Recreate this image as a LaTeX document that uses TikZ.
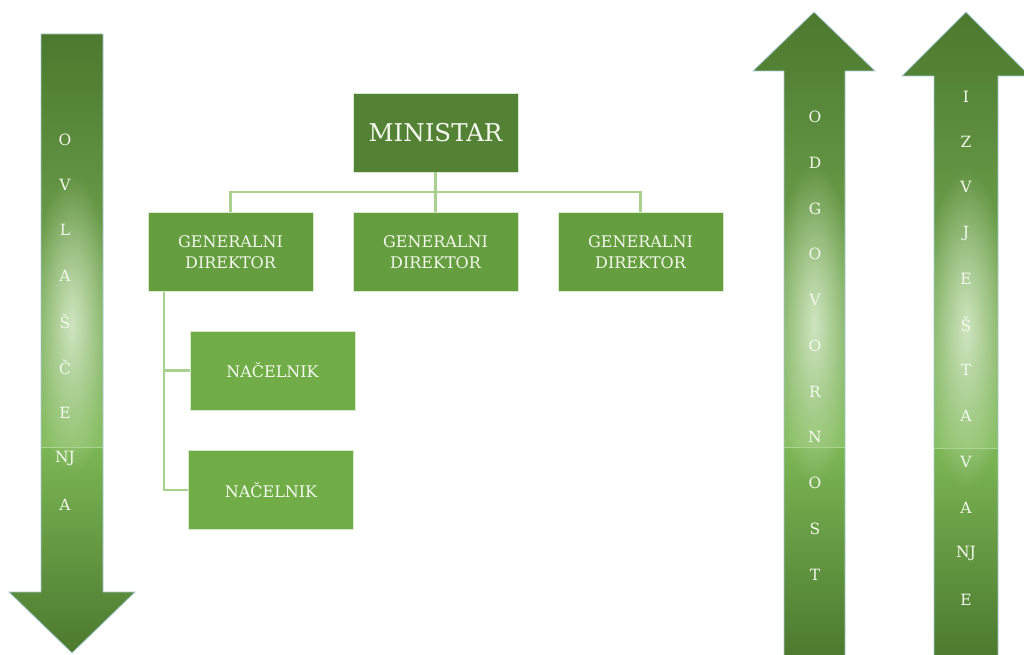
\documentclass[tikz,border=0pt]{standalone}
\usepackage{fontspec}
\setmainfont{DejaVu Serif}
\usetikzlibrary{fadings}
\definecolor{dk}{HTML}{4B792E}
\definecolor{md}{HTML}{64A13F}
\definecolor{lt}{HTML}{88C063}
\definecolor{lw}{HTML}{7BB654}
\definecolor{glowc}{HTML}{CFE5C0}
\definecolor{boxA}{HTML}{548235}
\definecolor{boxB}{HTML}{659E3E}
\definecolor{boxC}{HTML}{70AD47}
\definecolor{lnc}{HTML}{A9D08E}
\definecolor{edgec}{HTML}{A9C9D6}
\definecolor{txt}{HTML}{F5F8EF}
\tikzfading[name=glowfade, inner color=transparent!0, outer color=transparent!100]
\tikzset{
  orgbox/.style={draw=white!75!boxB, line width=0.6pt, minimum width=165pt, minimum height=79pt, inner sep=0pt, text=txt, align=center, font=\fontsize{16}{21}\selectfont},
  conn/.style={draw=lnc, line width=2.4pt},
  letter/.style={text=txt, font=\fontsize{15.5}{15.5}\selectfont, inner sep=0pt, anchor=center},
  arrowedge/.style={draw=edgec, line width=0.8pt}
}
\begin{document}
\begin{tikzpicture}[x=1pt,y=-1pt]
\useasboundingbox (0,0) rectangle (1024,655);
% ---------- left arrow (down) ----------
\begin{scope}
  \clip (41,34) -- (103,34) -- (103,592) -- (135,592) -- (72,653) -- (9,592) -- (41,592) -- cycle;
  \shade[top color=dk, middle color=md, bottom color=lt] (0,34) rectangle (140,447);
  \shade[top color=lw, bottom color=dk] (0,447) rectangle (140,655);
  \fill[glowc, path fading=glowfade] (72,325) ellipse (42pt and 150pt);
  \draw[lt!70!white, line width=0.5pt] (41,447) -- (103,447);
\end{scope}
\draw[arrowedge] (41,34) -- (103,34) -- (103,592) -- (135,592) -- (72,653) -- (9,592) -- (41,592) -- cycle;
% ---------- right arrow 1 (up) ----------
\begin{scope}
  \clip (784,660) -- (784,71) -- (753,71) -- (814,12) -- (875,71) -- (845,71) -- (845,660) -- cycle;
  \shade[top color=dk, middle color=md, bottom color=lt] (740,12) rectangle (880,447);
  \shade[top color=lw, bottom color=dk] (740,447) rectangle (880,660);
  \fill[glowc, path fading=glowfade] (814,325) ellipse (42pt and 160pt);
  \draw[lt!70!white, line width=0.5pt] (784,447) -- (845,447);
\end{scope}
\draw[arrowedge] (784,660) -- (784,71) -- (753,71) -- (814,12) -- (875,71) -- (845,71) -- (845,660);
% ---------- right arrow 2 (up) ----------
\begin{scope}
  \clip (934,660) -- (934,76) -- (902,76) -- (966,12) -- (1030,76) -- (998,76) -- (998,660) -- cycle;
  \shade[top color=dk, middle color=md, bottom color=lt] (890,12) rectangle (1040,448);
  \shade[top color=lw, bottom color=dk] (890,448) rectangle (1040,660);
  \fill[glowc, path fading=glowfade] (966,330) ellipse (44pt and 160pt);
  \draw[lt!70!white, line width=0.5pt] (934,448) -- (998,448);
\end{scope}
\draw[arrowedge] (934,660) -- (934,76) -- (902,76) -- (966,12) -- (1030,76) -- (998,76) -- (998,660);
% ---------- letters ----------
\foreach \t/\y [count=\i] in {O/140,V/185,L/230,A/276,Š/321,Č/367,E/413,NJ/458,A/505}
  \node[letter] (lA\i) at (65,\y) {\t};
\foreach \t/\y [count=\i] in {O/117,D/163,G/209,O/254,V/300,O/346,R/392,N/437,O/483,S/529,T/575}
  \node[letter] (lB\i) at (815,\y) {\t};
\foreach \t/\y [count=\i] in {I/97,Z/142,V/187,J/233,E/279,Š/324,T/370,A/416,V/462,A/508,NJ/553,E/600}
  \node[letter] (lC\i) at (966,\y) {\t};
% ---------- org chart ----------
\node[orgbox, fill=boxA, font=\fontsize{24.5}{24.5}\selectfont] (min) at (435.5,132.5) {MINISTAR};
\node[orgbox, fill=boxB] (gd1) at (230.5,252) {GENERALNI\\DIREKTOR};
\node[orgbox, fill=boxB] (gd2) at (435.5,252) {GENERALNI\\DIREKTOR};
\node[orgbox, fill=boxB] (gd3) at (640.5,252) {GENERALNI\\DIREKTOR};
\node[orgbox, fill=boxC] (n1) at (272.5,370.5) {NAČELNIK};
\node[orgbox, fill=boxC] (n2) at (271,490) {NAČELNIK};
\coordinate (hub) at (435.5,192);
\draw[conn] (min.south) -- (hub);
\draw[conn] (gd1.north) |- (hub) -| (gd3.north);
\draw[conn] (hub) -- (gd2.north);
\draw[conn] ([xshift=16pt]gd1.south west) |- (n1.west);
\draw[conn] ([xshift=16pt]gd1.south west) |- (n2.west);
\end{tikzpicture}
\end{document}
